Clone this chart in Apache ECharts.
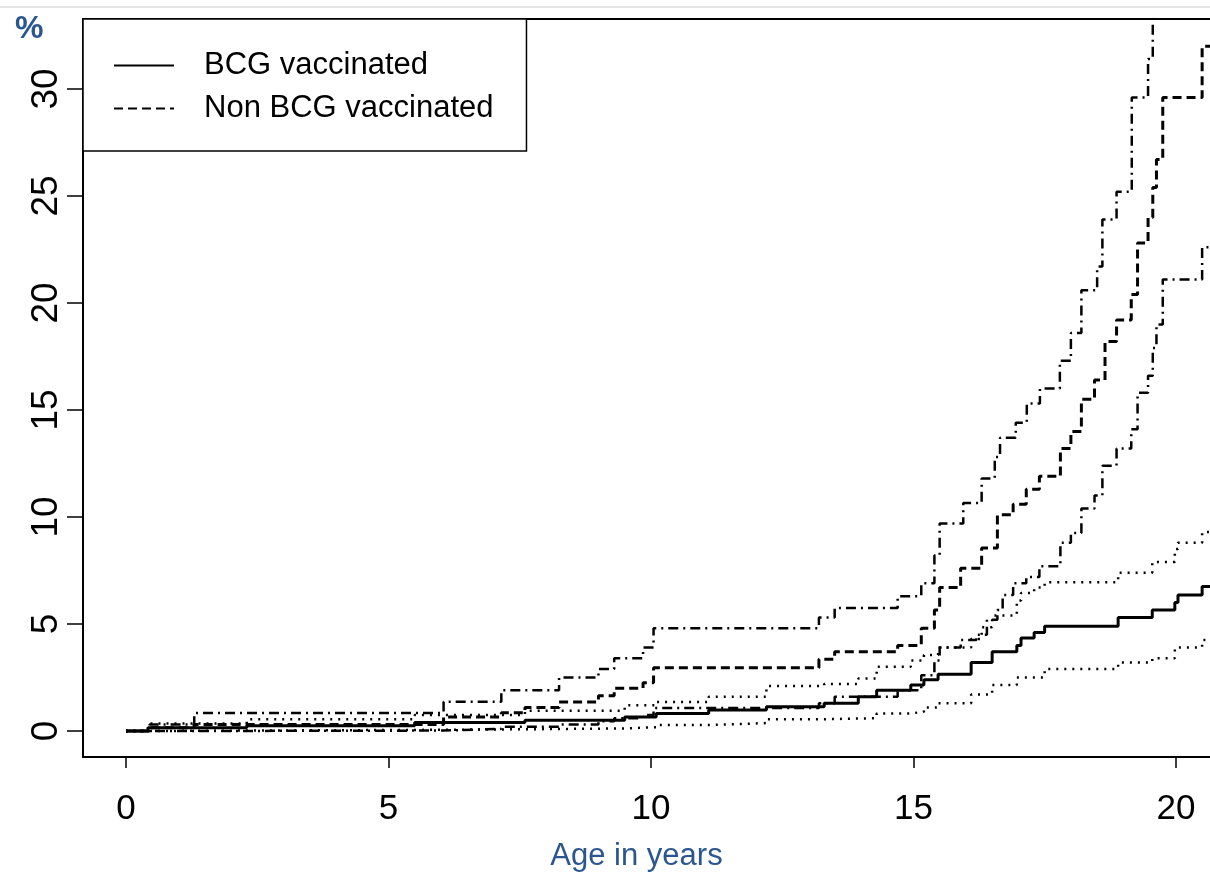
<!doctype html>
<html lang="en">
<head>
    <meta charset="UTF-8">
    <title>BCG vaccination and cumulative incidence</title>
    <style>
        html, body { margin: 0; padding: 0; background: #fff; }
        #main { width: 1210px; height: 874px; }
    </style>
    <script src="https://cdn.jsdelivr.net/npm/echarts@6/dist/echarts.min.js"></script>
</head>
<body>
    <div id="main"></div>
    <script>
        // tick values
        var xTicks = [0, 5, 10, 15, 20];
        var yTicks = [0, 5, 10, 15, 20, 25, 30];

        // [age, cumulative %] - BCG vaccinated estimate and its CI
        var bcgEst = [[0, 0], [0.42, 0.15], [2.3, 0.25], [5.5, 0.4], [7.6, 0.5], [9.5, 0.65], [10.1, 0.82],
            [11.1, 0.98], [12.2, 1.13], [13.3, 1.3], [13.95, 1.6], [14.3, 1.9], [14.95, 2.15], [15.2, 2.4],
            [15.47, 2.65], [16.1, 3.2], [16.5, 3.7], [16.97, 4.0], [17.05, 4.35], [17.3, 4.6], [17.5, 4.9],
            [18.9, 5.3], [19.55, 5.65], [19.98, 6.0], [20.04, 6.35], [20.5, 6.75], [20.65, 6.75]];
        var bcgUpper = [[0, 0], [0.42, 0.35], [2.3, 0.55], [5.5, 0.75], [7.6, 0.95], [9.5, 1.2], [10.1, 1.35],
            [11.1, 1.6], [12.2, 2.1], [13.3, 2.2], [13.95, 2.45], [14.3, 3.0], [14.95, 3.3], [15.2, 3.55],
            [15.47, 3.9], [16.1, 4.3], [16.3, 4.85], [16.5, 5.4], [16.97, 6.1], [17.05, 6.45], [17.3, 6.7],
            [17.5, 6.95], [18.9, 7.4], [19.55, 7.9], [19.98, 8.5], [20.04, 8.8], [20.5, 9.3], [20.65, 9.3]];
        var bcgLower = [[0, 0], [0.42, 0.02], [2.3, 0.05], [5.5, 0.08], [7.6, 0.12], [9.5, 0.18], [10.1, 0.28],
            [11.1, 0.37], [12.2, 0.55], [13.3, 0.6], [14.3, 0.82], [14.95, 0.9], [15.2, 1.1], [15.47, 1.3],
            [16.1, 1.7], [16.5, 2.15], [16.97, 2.5], [17.5, 2.9], [18.9, 3.2], [19.55, 3.4], [19.98, 3.9],
            [20.5, 4.25], [20.65, 4.25]];

        // Non BCG vaccinated estimate and its CI
        var nonEst = [[0, 0], [0.45, 0.15], [1.3, 0.3], [6.05, 0.65], [7.15, 0.85], [7.6, 1.1], [8.25, 1.35],
            [9.0, 1.65], [9.3, 2.0], [9.85, 2.25], [10.05, 2.95], [13.2, 3.35], [13.5, 3.7], [14.7, 4.0],
            [15.15, 4.8], [15.4, 5.65], [15.5, 6.7], [15.9, 7.6], [16.3, 8.55], [16.6, 10.1], [16.9, 10.6],
            [17.15, 11.3], [17.4, 11.9], [17.8, 13.2], [18.0, 14.0], [18.2, 15.5], [18.45, 16.4], [18.65, 18.2],
            [18.87, 19.2], [19.15, 20.4], [19.27, 22.8], [19.47, 24.0], [19.56, 25.4], [19.63, 26.7],
            [19.75, 29.6], [20.5, 32.0], [20.65, 32.0]];
        var nonUpper = [[0, 0], [0.45, 0.3], [1.3, 0.84], [6.05, 1.37], [7.15, 1.9], [8.25, 2.5], [9.0, 2.9],
            [9.3, 3.4], [9.85, 3.9], [10.05, 4.8], [13.2, 5.3], [13.5, 5.75], [14.7, 6.3], [15.15, 6.9],
            [15.4, 8.2], [15.5, 9.7], [15.95, 10.65], [16.3, 11.8], [16.55, 12.8], [16.65, 13.7], [16.95, 14.4],
            [17.16, 15.3], [17.41, 16.0], [17.79, 17.3], [18.0, 18.6], [18.2, 20.6], [18.5, 21.7], [18.6, 23.9],
            [18.87, 25.2], [19.16, 29.6], [19.47, 31.4], [19.56, 36], [20.65, 36]];
        var nonLower = [[0, 0], [1.3, 0.02], [6.05, 0.1], [7.15, 0.2], [8.25, 0.3], [9.0, 0.45], [9.3, 0.6],
            [9.85, 0.75], [10.05, 1.07], [13.2, 1.3], [13.5, 1.6], [14.7, 1.9], [15.15, 2.6], [15.4, 3.3],
            [15.5, 3.9], [15.9, 4.25], [16.2, 4.5], [16.4, 5.2], [16.6, 5.65], [16.7, 6.35], [16.9, 6.9],
            [17.15, 7.2], [17.4, 7.7], [17.8, 8.8], [18.0, 9.25], [18.2, 10.4], [18.45, 11.0], [18.6, 12.4],
            [18.87, 13.2], [19.15, 14.1], [19.27, 15.8], [19.47, 16.6], [19.56, 17.9], [19.63, 19.0],
            [19.75, 21.1], [20.5, 22.6], [20.65, 22.6]];

        var font = '"Liberation Sans", Arial, Helvetica, sans-serif';
        var blue = '#2b5690';

        function stepLine(name, data, width, dash) {
            return {
                name: name,
                type: 'line',
                step: 'end',
                symbol: 'none',
                data: data,
                lineStyle: { color: '#000', width: width, type: dash },
                itemStyle: { color: '#000' },
                emphasis: { disabled: true },
                silent: true
            };
        }

        window.onload = function () {
            var chart = echarts.init(document.getElementById('main'));
            var option = {
                animation: false,
                backgroundColor: '#fff',
                grid: { left: 83, top: 19, right: 0, bottom: 117, show: false, outerBoundsMode: 'none' },
                legend: {
                    data: ['BCG vaccinated', 'Non BCG vaccinated'],
                    orient: 'vertical',
                    left: 83,
                    top: 19,
                    padding: [31, 33, 27, 30],
                    itemWidth: 60,
                    itemHeight: 14,
                    itemGap: 12,
                    borderColor: '#000',
                    borderWidth: 1.5,
                    backgroundColor: '#fff',
                    selectedMode: false,
                    itemStyle: { opacity: 0 },
                    textStyle: { fontFamily: font, fontSize: 31, color: '#000', lineHeight: 31, padding: [0, 0, 0, 25] }
                },
                title: {
                    text: '%',
                    left: 10,
                    top: 8,
                    textStyle: { fontFamily: font, fontSize: 32, fontWeight: 'bold', color: blue }
                },
                xAxis: [{
                    type: 'value',
                    min: -0.819,
                    max: 20.65,
                    name: 'Age in years',
                    nameLocation: 'middle',
                    nameGap: 84,
                    nameTextStyle: { fontFamily: font, fontSize: 31, color: blue, padding: [0, 20, 0, 0] },
                    axisLine: { show: true, onZero: false, lineStyle: { color: '#000', width: 2 } },
                    axisTick: { show: true, customValues: xTicks, length: 11, lineStyle: { color: '#000', width: 1.5 } },
                    axisLabel: { customValues: xTicks, fontFamily: font, fontSize: 35, color: '#000', margin: 35 },
                    splitLine: { show: false }
                }, {
                    type: 'value',
                    position: 'top',
                    min: -0.819,
                    max: 20.65,
                    axisLine: { show: true, onZero: false, lineStyle: { color: '#000', width: 2 } },
                    axisTick: { show: false },
                    axisLabel: { show: false },
                    splitLine: { show: false }
                }],
                yAxis: {
                    type: 'value',
                    min: -1.215,
                    max: 33.27,
                    axisLine: { show: true, onZero: false, lineStyle: { color: '#000', width: 2 } },
                    axisTick: { show: true, customValues: yTicks, length: 16, lineStyle: { color: '#000', width: 1.5 } },
                    axisLabel: { customValues: yTicks, rotate: 90, fontFamily: font, fontSize: 37, color: '#000', margin: 18 },
                    splitLine: { show: false }
                },
                graphic: [{
                    type: 'line',
                    shape: { x1: 0, y1: 7, x2: 1210, y2: 7 },
                    style: { stroke: '#e4e4e4', lineWidth: 2 },
                    silent: true
                }],
                series: [
                    stepLine('BCG vaccinated', bcgEst, 3, 'solid'),
                    stepLine('BCG upper', bcgUpper, 2.5, [2, 6]),
                    stepLine('BCG lower', bcgLower, 2.5, [2, 6]),
                    stepLine('Non BCG vaccinated', nonEst, 3, [9, 5]),
                    stepLine('Non BCG upper', nonUpper, 2.5, [2, 5, 10, 5]),
                    stepLine('Non BCG lower', nonLower, 2.5, [2, 5, 10, 5])
                ]
            };
            chart.setOption(option);
        };
    </script>
</body>
</html>
